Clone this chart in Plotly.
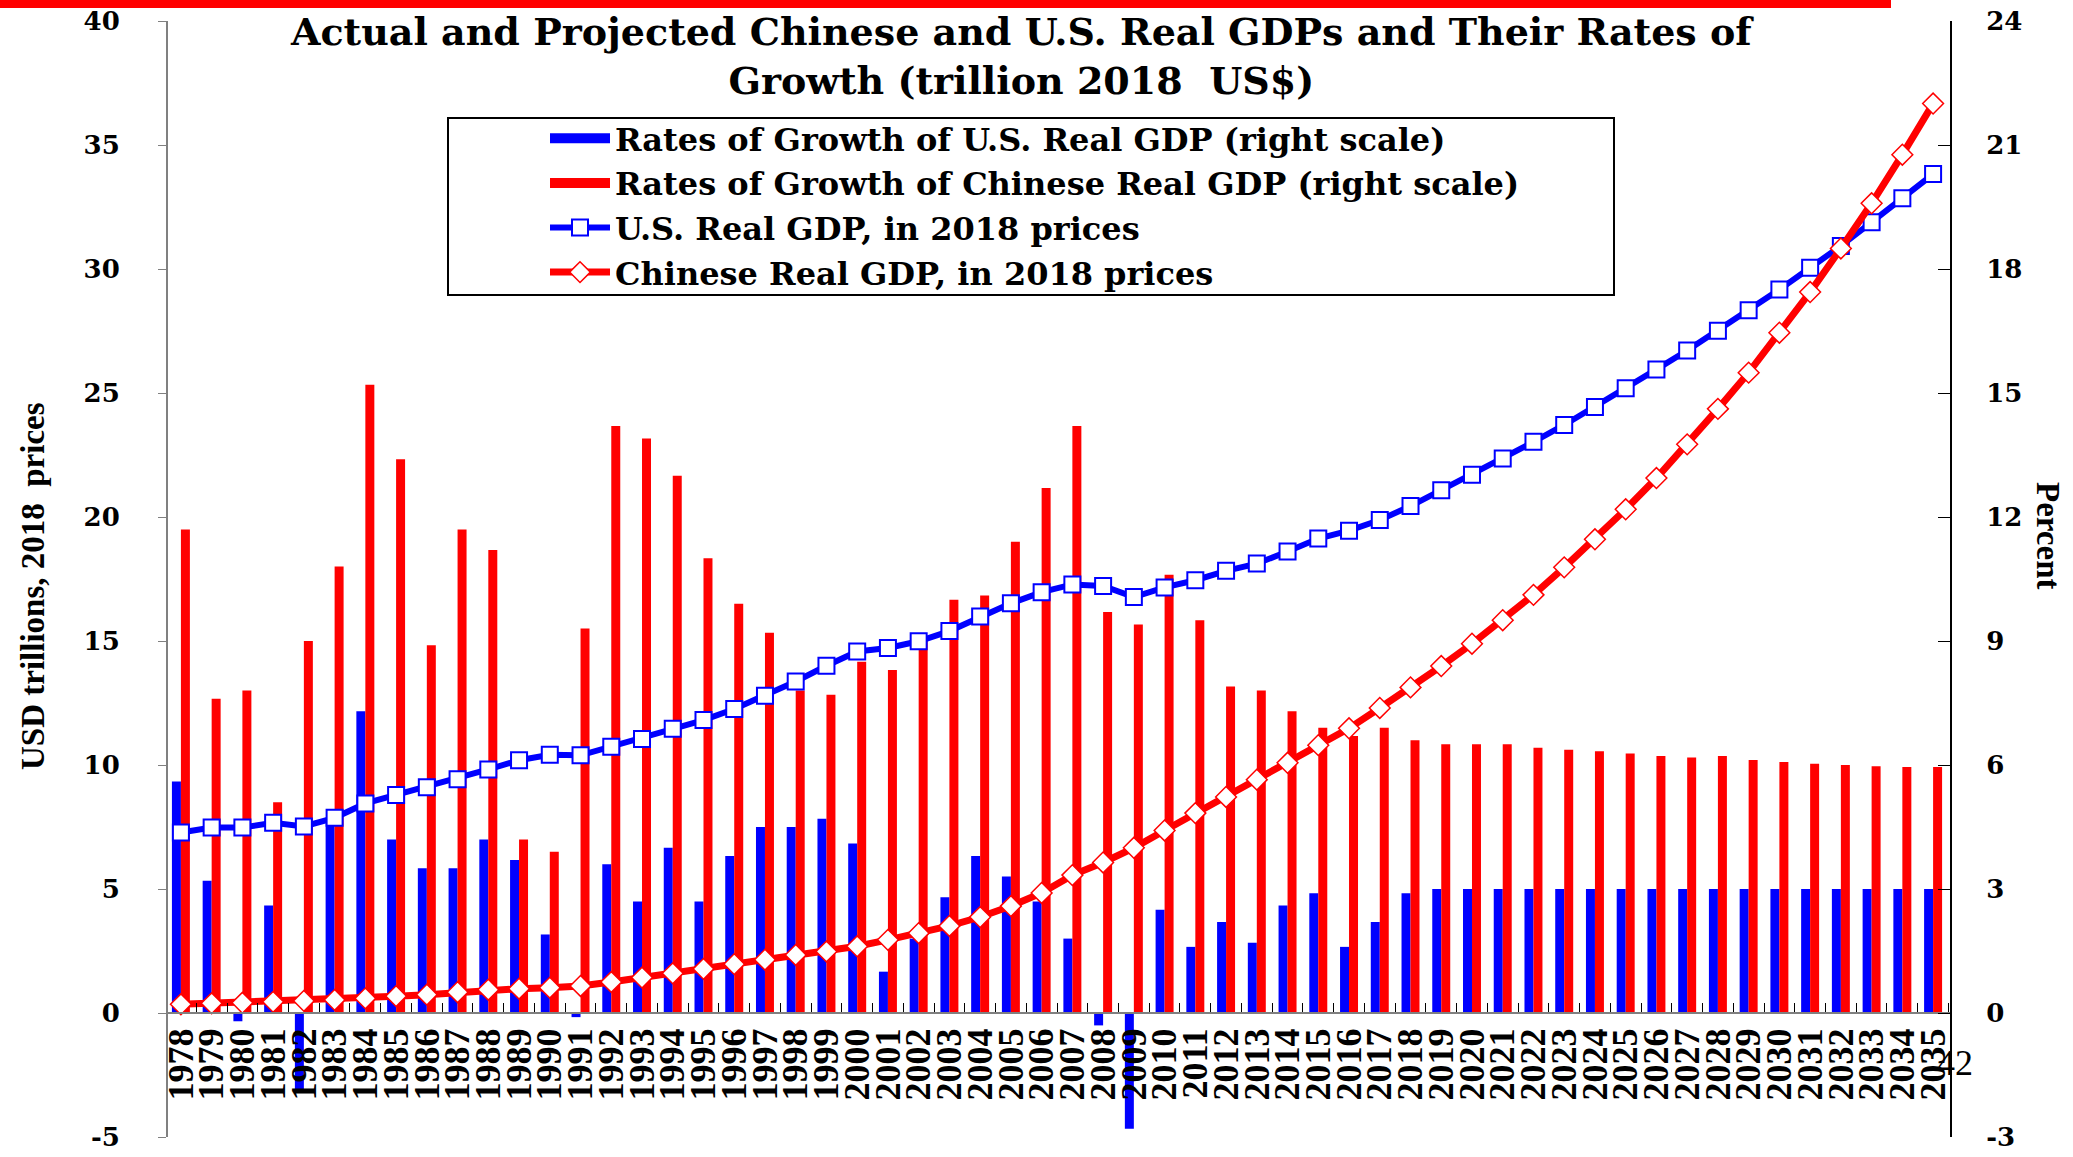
import plotly.graph_objects as go

# ---------------- data ----------------
years = [str(y) for y in range(1978, 2036)]

us_growth = [5.6, 3.2, -0.2, 2.6, -1.9, 4.6, 7.3, 4.2, 3.5, 3.5,
             4.2, 3.7, 1.9, -0.1, 3.6, 2.7, 4.0, 2.7, 3.8, 4.5,
             4.5, 4.7, 4.1, 1.0, 1.8, 2.8, 3.8, 3.3, 2.7, 1.8,
             -0.3, -2.8, 2.5, 1.6, 2.2, 1.7, 2.6, 2.9, 1.6, 2.2,
             2.9, 3.0, 3.0, 3.0, 3.0, 3.0, 3.0, 3.0, 3.0, 3.0,
             3.0, 3.0, 3.0, 3.0, 3.0, 3.0, 3.0, 3.0]

cn_growth = [11.7, 7.6, 7.8, 5.1, 9.0, 10.8, 15.2, 13.4, 8.9, 11.7,
             11.2, 4.2, 3.9, 9.3, 14.2, 13.9, 13.0, 11.0, 9.9, 9.2,
             7.8, 7.7, 8.5, 8.3, 9.1, 10.0, 10.1, 11.4, 12.7, 14.2,
             9.7, 9.4, 10.6, 9.5, 7.9, 7.8, 7.3, 6.9, 6.7, 6.9,
             6.6, 6.5, 6.5, 6.5, 6.42, 6.37, 6.33, 6.28, 6.22, 6.18,
             6.22, 6.12, 6.07, 6.03, 6.0, 5.97, 5.95, 5.95]

us_gdp = [7.28, 7.48, 7.48, 7.67, 7.52, 7.87, 8.45, 8.79, 9.10, 9.43,
          9.82, 10.19, 10.41, 10.39, 10.74, 11.05, 11.46, 11.81, 12.26, 12.79,
          13.37, 14.00, 14.58, 14.72, 14.99, 15.40, 15.99, 16.52, 16.97, 17.28,
          17.22, 16.77, 17.16, 17.45, 17.83, 18.12, 18.61, 19.13, 19.45, 19.88,
          20.44, 21.08, 21.70, 22.36, 23.03, 23.71, 24.44, 25.19, 25.95, 26.71,
          27.51, 28.34, 29.17, 30.05, 30.93, 31.89, 32.85, 33.83]

cn_gdp = [0.35, 0.39, 0.41, 0.45, 0.49, 0.53, 0.59, 0.68, 0.74, 0.84,
          0.94, 0.98, 1.02, 1.09, 1.25, 1.43, 1.60, 1.78, 1.97, 2.15,
          2.34, 2.48, 2.69, 2.95, 3.22, 3.51, 3.87, 4.31, 4.84, 5.56,
          6.07, 6.66, 7.36, 8.06, 8.71, 9.41, 10.09, 10.80, 11.48, 12.30,
          13.13, 13.99, 14.89, 15.84, 16.86, 17.97, 19.10, 20.31, 21.57, 22.93,
          24.36, 25.82, 27.43, 29.07, 30.83, 32.65, 34.61, 36.67]

left_tick_vals = [-5, 0, 5, 10, 15, 20, 25, 30, 35, 40]
left_tick_text = ["-5", "0", "5", "10", "15", "20", "25", "30", "35", "40"]
right_tick_vals = [-3, 0, 3, 6, 9, 12, 15, 18, 21, 24]
right_tick_text = ["-3", "0", "3", "6", "9", "12", "15", "18", "21", "24"]

title_text = ("Actual and Projected Chinese and U.S. Real GDPs and Their Rates of<br>"
              "Growth (trillion 2018\u00a0\u00a0US$)")
left_title = "USD trillions, 2018\u00a0\u00a0prices"
right_title = "Percent"

name_us_growth = "Rates of Growth of U.S. Real GDP (right scale)"
name_cn_growth = "Rates of Growth of Chinese Real GDP (right scale)"
name_us_gdp = "U.S. Real GDP, in 2018 prices"
name_cn_gdp = "Chinese Real GDP, in 2018 prices"

# ---------------- geometry helpers (pixels -> paper) ----------------
W, H = 2073, 1157
L, R, T, B = 168, 1950, 21, 1137


def px(xp):
    return (xp - L) / (R - L)


def py(yp):
    return (B - yp) / (B - T)


BLUE = "#0000FF"
RED = "#FF0000"
SERIF_W = "DejaVu Serif"
SERIF = "Liberation Serif"

fig = go.Figure()
# bars (percent axis, right)
fig.add_trace(go.Bar(x=years, y=us_growth, name=name_us_growth, showlegend=False,
                     marker=dict(color=BLUE, line=dict(width=0)), yaxis="y"))
fig.add_trace(go.Bar(x=years, y=cn_growth, name=name_cn_growth, showlegend=False,
                     marker=dict(color=RED, line=dict(width=0)), yaxis="y"))
# legend keys for the bars: wide rectangles
fig.add_trace(go.Scatter(x=[None], y=[None], mode="lines", name=name_us_growth,
                         line=dict(color=BLUE, width=15), yaxis="y", hoverinfo="skip"))
fig.add_trace(go.Scatter(x=[None], y=[None], mode="lines", name=name_cn_growth,
                         line=dict(color=RED, width=15), yaxis="y", hoverinfo="skip"))
# GDP lines (left axis)
fig.add_trace(go.Scatter(
    x=years, y=us_gdp, mode="lines+markers", name=name_us_gdp,
    line=dict(color=BLUE, width=6),
    marker=dict(symbol="square", size=16, color="white", line=dict(color=BLUE, width=2)),
    yaxis="y2"))
fig.add_trace(go.Scatter(
    x=years, y=cn_gdp, mode="lines+markers", name=name_cn_gdp,
    line=dict(color=RED, width=7),
    marker=dict(symbol="diamond", size=16, color="white", line=dict(color=RED, width=1.5)),
    yaxis="y2"))

fig.update_layout(
    width=W, height=H,
    margin=dict(l=L, r=W - R, t=T, b=H - B, autoexpand=False),
    paper_bgcolor="white", plot_bgcolor="white",
    barmode="group", bargap=0.415, bargroupgap=0,
    xaxis=dict(type="category", range=[-0.42, 57.55], anchor="free", position=5 / 45,
               showline=True, linecolor="#808080", linewidth=2,
               tickmode="array", tickvals=years, ticktext=years,
               ticks="inside", tickson="boundaries", ticklen=9, tickcolor="black", tickwidth=1,
               tickangle=-90, showgrid=False, zeroline=False,
               tickfont=dict(family=SERIF, size=36, color="black", weight="bold")),
    yaxis=dict(side="right", range=[-3, 24], tickvals=right_tick_vals, ticktext=right_tick_text,
               ticks="inside", ticklen=12, tickcolor="black", tickwidth=1,
               showline=True, linecolor="black", linewidth=2,
               showgrid=False, zeroline=False, ticklabelstandoff=29,
               tickfont=dict(family=SERIF_W, size=26, color="black", weight="bold")),
    yaxis2=dict(overlaying="y", side="left", range=[-5, 40], tickvals=left_tick_vals,
                ticktext=left_tick_text, ticks="outside", ticklen=8, tickcolor="#808080",
                showline=True, linecolor="#808080", linewidth=2,
                showgrid=False, zeroline=False, ticklabelstandoff=33,
                tickfont=dict(family=SERIF_W, size=26, color="black", weight="bold")),
    legend=dict(x=px(545), y=py(111), xanchor="left", yanchor="top",
                bgcolor="rgba(0,0,0,0)", borderwidth=0, itemwidth=60,
                traceorder="normal", tracegroupgap=0,
                font=dict(family=SERIF_W, size=32, color="black", weight="bold")),
    showlegend=True,
)

# legend frame
fig.add_shape(type="rect", xref="paper", yref="paper",
              x0=px(448), x1=px(1614), y0=py(295), y1=py(118),
              line=dict(color="black", width=2), fillcolor="white", layer="below")
# top red band
fig.add_shape(type="rect", xref="paper", yref="paper",
              x0=px(0), x1=px(1891), y0=py(8), y1=py(0),
              line=dict(width=0), fillcolor=RED, layer="above")

# chart title (two lines)
fig.add_annotation(text=title_text, xref="paper", yref="paper", x=px(1022), y=py(56),
                   xanchor="center", yanchor="middle", showarrow=False, align="center",
                   font=dict(family=SERIF_W, size=38, color="black", weight="bold"))
fig.add_annotation(text=left_title, xref="paper", yref="paper", x=px(33), y=py(586),
                   xanchor="center", yanchor="middle", textangle=-90, showarrow=False,
                   font=dict(family=SERIF, size=33, color="black", weight="bold"))
fig.add_annotation(text=right_title, xref="paper", yref="paper", x=px(2048), y=py(536),
                   xanchor="center", yanchor="middle", textangle=90, showarrow=False,
                   font=dict(family=SERIF, size=33, color="black", weight="bold"))
fig.add_annotation(text="42", xref="paper", yref="paper", x=px(1955), y=py(1063),
                   xanchor="center", yanchor="middle", showarrow=False,
                   font=dict(family=SERIF, size=36, color="black"))

fig.write_html("out.html", config={"displayModeBar": False},
               post_script="document.body.style.margin='0';document.body.style.padding='0';")
